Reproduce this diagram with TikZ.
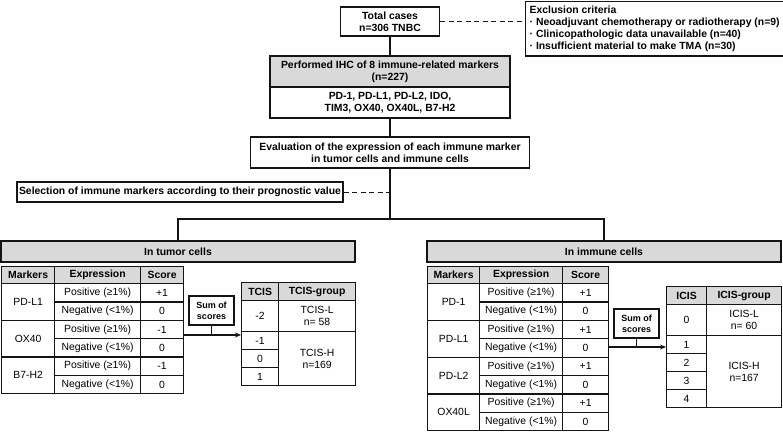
\documentclass[tikz,border=0pt]{standalone}
\usepackage{fontspec}
\setmainfont{Liberation Sans}
\usepackage{tikz}
\usetikzlibrary{
  arrows.meta,
  positioning
}
\definecolor{BoxGray}{RGB}{217, 217, 217}
\definecolor{LineBlack}{RGB}{20, 20, 20}
\tikzset{
    box/.style={draw=LineBlack, line width=1.3pt, fill=white, align=center, font=\bfseries, inner sep=1pt},
    graybox/.style={box, fill=BoxGray},
    cellsize/.style 2 args={minimum width=#1, minimum height=#2},
    cell/.style={draw=LineBlack, line width=1.2pt, anchor=north west, inner sep=0pt, align=center},
    headcell/.style={cell, fill=BoxGray, font=\bfseries},
    link/.style={draw=LineBlack, line width=1.4pt},
    dashlink/.style={draw=LineBlack, line width=1pt, dash pattern=on 5pt off 3.5pt}
}

\begin{document}
\fontsize{10.4}{12.2}\selectfont
\begin{tikzpicture}[x=1pt, y=-1pt]
    \useasboundingbox (0,0) rectangle (783,432);

    % flow at the top
    \node[box, cellsize={99}{29}] (total) at (390,21.5) {Total cases\\n=306 TNBC};
    \node[box, align=left, anchor=north west, cellsize={256}{54}, inner sep=4pt] (excl) at (525,1) {
        Exclusion criteria\\
        · Neoadjuvant chemotherapy or radiotherapy (n=9)\\
        · Clinicopathologic data unavailable (n=40)\\
        · Insufficient material to make TMA (n=30)};
    \node[graybox, cellsize={240}{31}] (ihc) at (390,71.5) {Performed IHC of 8 immune-related markers\\(n=227)};
    \node[box, cellsize={240}{31}] (ihclist) at (390,102.5) {PD-1, PD-L1, PD-L2, IDO,\\TIM3, OX40, OX40L, B7-H2};
    \node[box, cellsize={279}{31}] (eval) at (390,152.5) {Evaluation of the expression of each immune marker\\in tumor cells and immune cells};
    \node[box, cellsize={326}{20}] (select) at (180,192) {Selection of immune markers according to their prognostic value};
    \coordinate (split) at (390,219);

    \draw[dashlink] (total.east) -- (total.east -| excl.west);
    \draw[link] (total.south) -- (ihc.north);
    \draw[link] (ihclist.south) -- (eval.north);
    \draw[link] (eval.south) -- (split);
    \draw[dashlink] (select.east) -- (select.east -| split);

    % the two branches
    \node[graybox, cellsize={354}{21}] (tumorhead) at (178,251.5) {In tumor cells};
    \node[graybox, cellsize={354}{21}] (immunehead) at (604,251.5) {In immune cells};
    \draw[link] (tumorhead.north) |- (split) -| (immunehead.north);

    % tumor cells: marker table
    \node[headcell, cellsize={53}{17}] (tmkhead) at (1,266) {Markers};
    \node[headcell, cellsize={86}{17}] (texhead) at (54,266) {Expression};
    \node[headcell, cellsize={43}{17}] (tschead) at (140,266) {Score};
    \foreach \mk/\sc [count=\i from 0] in {PD-L1/+1, OX40/-1, B7-H2/-1}{
        \pgfmathsetmacro\ty{283+36.67*\i}
        \node[cell, cellsize={53}{36.67}] (tmk\i) at (1,\ty) {\mk};
        \node[cell, cellsize={86}{18.33}] (tpos\i) at (54,\ty) {Positive (≥1\%)};
        \node[cell, cellsize={86}{18.33}] (tneg\i) at (54,\ty+18.33) {Negative (<1\%)};
        \node[cell, cellsize={43}{18.33}] (tscp\i) at (140,\ty) {\sc};
        \node[cell, cellsize={43}{18.33}] (tscn\i) at (140,\ty+18.33) {0};
    }

    % tumor cells: score groups
    \node[headcell, cellsize={37}{18}] (tcishead) at (241,282) {TCIS};
    \node[headcell, cellsize={77}{18}] (tgrphead) at (278,282) {TCIS-group};
    \node[cell, cellsize={37}{31}] (tcism2) at (241,300) {-2};
    \node[cell, cellsize={37}{18}] (tcism1) at (241,331) {-1};
    \node[cell, cellsize={37}{18}] (tcis0) at (241,349) {0};
    \node[cell, cellsize={37}{18}] (tcis1) at (241,367) {1};
    \node[cell, cellsize={77}{31}] (tcisl) at (278,300) {TCIS-L\\n= 58};
    \node[cell, cellsize={77}{54}] (tcish) at (278,331) {TCIS-H\\n=169};

    \node[box, font=\small\bfseries, cellsize={45}{29}, inner sep=0pt] (tsum) at (211.5,310.5) {Sum of\\scores};
    \coordinate (tjoin) at (183,335);
    \draw[link, -{Stealth[length=6pt, width=5pt]}] (tjoin) -- (tjoin -| tcism1.west);
    \draw[link] (tsum.south) -- (tsum.south |- tjoin);

    % immune cells: marker table
    \node[headcell, cellsize={52}{17}] (imkhead) at (427,266) {Markers};
    \node[headcell, cellsize={83}{17}] (iexhead) at (479,266) {Expression};
    \node[headcell, cellsize={46}{17}] (ischead) at (562,266) {Score};
    \foreach \mk [count=\i from 0] in {PD-1, PD-L1, PD-L2, OX40L}{
        \pgfmathsetmacro\iy{283+36.8*\i}
        \node[cell, cellsize={52}{36.8}] (imk\i) at (427,\iy) {\mk};
        \node[cell, cellsize={83}{18.4}] (ipos\i) at (479,\iy) {Positive (≥1\%)};
        \node[cell, cellsize={83}{18.4}] (ineg\i) at (479,\iy+18.4) {Negative (<1\%)};
        \node[cell, cellsize={46}{18.4}] (iscp\i) at (562,\iy) {+1};
        \node[cell, cellsize={46}{18.4}] (iscn\i) at (562,\iy+18.4) {0};
    }

    % immune cells: score groups
    \node[headcell, cellsize={40}{18}] (icishead) at (666,286) {ICIS};
    \node[headcell, cellsize={75}{18}] (igrphead) at (706,286) {ICIS-group};
    \node[cell, cellsize={40}{31}] (icis0) at (666,304) {0};
    \foreach \n [count=\i from 0] in {1,2,3,4}{
        \node[cell, cellsize={40}{18}] (icis\n) at (666,335+18*\i) {\n};
    }
    \node[cell, cellsize={75}{31}] (icisl) at (706,304) {ICIS-L\\n= 60};
    \node[cell, cellsize={75}{72}] (icish) at (706,335) {ICIS-H\\n=167};

    \node[box, font=\small\bfseries, cellsize={45}{29}, inner sep=0pt] (isum) at (636.5,323.5) {Sum of\\scores};
    \coordinate (ijoin) at (608,347);
    \draw[link, -{Stealth[length=6pt, width=5pt]}] (ijoin) -- (ijoin -| icis1.west);
    \draw[link] (isum.south) -- (isum.south |- ijoin);
\end{tikzpicture}
\end{document}
